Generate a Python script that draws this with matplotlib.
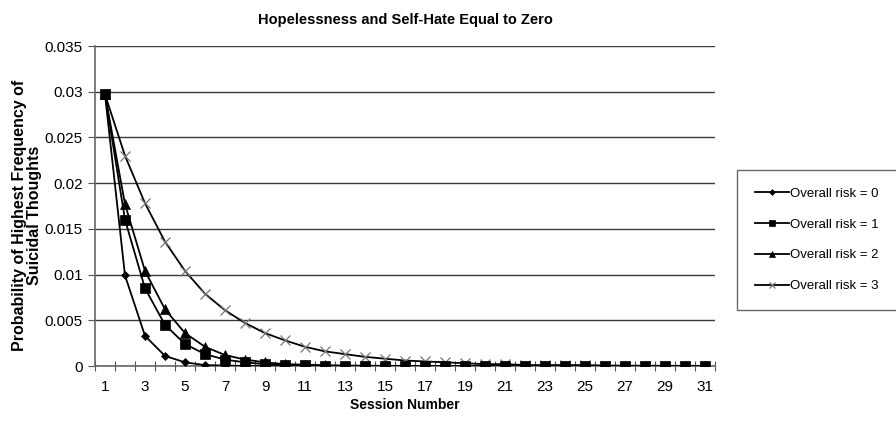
import matplotlib.pyplot as plt
import numpy as np

sessions = np.arange(1, 32)

risk0 = [0.0297, 0.0099, 0.0033, 0.0011, 0.0004, 0.0001, 0.00004, 0.00001] + [0.0] * 23
risk1 = [0.0297, 0.0160, 0.0085, 0.0045, 0.0024, 0.0013, 0.0007, 0.0004, 0.0002,
         0.0001, 0.00006, 0.00003, 0.00002, 0.00001] + [0.0] * 17
risk2 = [0.0297, 0.0177, 0.0104, 0.0062, 0.0036, 0.0021, 0.0012, 0.0007, 0.0004,
         0.0002, 0.00014, 0.00008, 0.00005, 0.00003, 0.00002, 0.00001] + [0.0] * 15
risk3 = [0.0297, 0.0230, 0.0178, 0.0136, 0.0104, 0.0079, 0.0061, 0.0047, 0.0036,
         0.0028, 0.0021, 0.0016, 0.0013, 0.0010, 0.0008, 0.0006, 0.0005, 0.0004,
         0.0003, 0.0002, 0.0002, 0.0001, 0.0001, 0.0001, 0.0001, 0.00005, 0.00004,
         0.00003, 0.00002, 0.00002, 0.00001]

# values, marker, size, z-order, label
series = [(risk0, "D", 4.5, 4, "Overall risk = 0"),
          (risk1, "s", 7, 5, "Overall risk = 1"),
          (risk2, "^", 6.5, 3, "Overall risk = 2"),
          (risk3, "x", 6.5, 2, "Overall risk = 3")]

plt.rcParams['font.family'] = ['Liberation Sans', 'DejaVu Sans']

fig = plt.figure(figsize=(8.96, 4.26), dpi=100)
ax = fig.add_axes([95 / 896, 60 / 426, 620 / 896, 320 / 426])

for vals, mk, ms, z, lab in series:
    mc = "#777777" if mk == "x" else "black"
    ax.plot(sessions, vals, color="black", linewidth=1.3, marker=mk, markersize=ms,
            markeredgecolor=mc, markerfacecolor=mc, markeredgewidth=0.9 if mk == "x" else 0.5,
            label=lab, zorder=z)

ax.set_xlim(0.5, 31.5)
ax.set_ylim(0, 0.035)
ax.set_yticks(np.arange(0, 0.0351, 0.005))
ax.set_yticklabels(["0", "0.005", "0.01", "0.015", "0.02", "0.025", "0.03", "0.035"])
ax.yaxis.grid(True, color="#3a3a3a", linewidth=1.0)
ax.set_axisbelow(True)

ax.set_xticks(np.arange(0.5, 31.6, 1), minor=False)
ax.set_xticklabels([])
ax.set_xticks(sessions[::2], minor=True)
ax.set_xticklabels([str(s) for s in sessions[::2]], minor=True)
ax.tick_params(axis="x", which="major", length=7, direction="inout", color="#555555")
ax.tick_params(axis="x", which="minor", length=0, labelsize=11, pad=10)
ax.tick_params(axis="y", length=5, labelsize=11, color="#555555", pad=4)

for s in ["top", "right"]:
    ax.spines[s].set_visible(False)
for s in ["left", "bottom"]:
    ax.spines[s].set_color("#666666")
    ax.spines[s].set_linewidth(1.2)

ax.set_xlabel("Session Number", fontsize=10, fontweight="bold", labelpad=3)
ax.set_ylabel("Probability of Highest Frequency of\nSuicidal Thoughts", fontsize=11.5,
              fontweight="bold", linespacing=1.05)
ax.yaxis.set_label_coords(-0.085, 0.47)
fig.suptitle("Hopelessness and Self-Hate Equal to Zero", x=405 / 896, y=0.97,
             fontsize=10.5, fontweight="bold")

leg = fig.legend(loc="upper left", bbox_to_anchor=(737 / 896, 1 - 170 / 426),
                 borderaxespad=0, frameon=True, fancybox=False, edgecolor="#444444",
                 fontsize=9.5, handlelength=2.6, labelspacing=1.4, borderpad=1.35,
                 handletextpad=0.1, markerscale=0.65)
leg.get_frame().set_linewidth(1.0)

fig.savefig("out.png", dpi=100)
